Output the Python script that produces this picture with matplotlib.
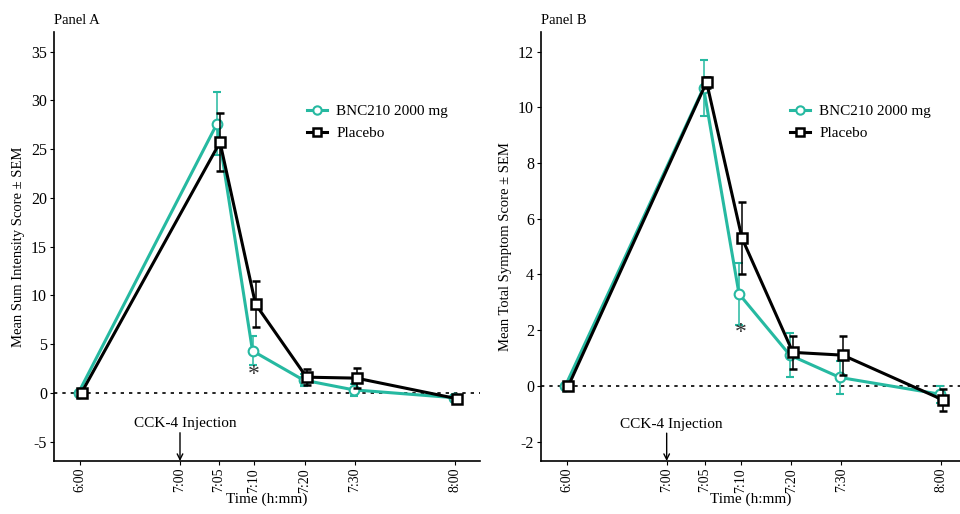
import numpy as np
import matplotlib.pyplot as plt
from matplotlib.lines import Line2D

plt.rcParams['font.family'] = ['Liberation Serif', 'DejaVu Serif']

# time points and tick labels
times = ["6:00", "7:05", "7:10", "7:20", "7:30", "8:00"]
tick_labels = ["6:00", "7:00", "7:05", "7:10", "7:20", "7:30", "8:00"]

# Panel A: Mean Sum Intensity Score
a_bnc = [0, 27.6, 4.3, 1.3, 0.3, -0.5]
a_bnc_sem = [0, 3.2, 1.5, 0.6, 0.6, 0.3]
a_pbo = [0, 25.7, 9.1, 1.6, 1.5, -0.6]
a_pbo_sem = [0, 3.0, 2.4, 0.8, 1.0, 0.3]

# Panel B: Mean Total Symptom Score
b_bnc = [0, 10.7, 3.3, 1.1, 0.3, -0.3]
b_bnc_sem = [0, 1.0, 1.1, 0.8, 0.6, 0.3]
b_pbo = [0, 10.9, 5.3, 1.2, 1.1, -0.5]
b_pbo_sem = [0, 0.2, 1.3, 0.6, 0.7, 0.4]

# non-linear x layout as in the original figure
tick_pos = np.array([0, 2.0, 2.77, 3.48, 4.5, 5.5, 7.5])
data_pos = np.array([0, 2.77, 3.48, 4.5, 5.5, 7.5])

teal = '#26b9a1'


def draw_panel(ax, bnc, bnc_sem, pbo, pbo_sem, ylim, yticks, ylabel, title,
               xright, star_y, cck_text_y, cck_arrow_y, legend):
    ax.axhline(0, color='black', linestyle=(0, (2, 3)), linewidth=1.2, zorder=1)
    ax.errorbar(data_pos - 0.03, bnc, yerr=bnc_sem, color=teal, linewidth=2.2,
                marker='o', markersize=7, markerfacecolor='white',
                markeredgecolor=teal, markeredgewidth=1.5, ecolor=teal,
                elinewidth=1.1, capsize=3, capthick=1.1, zorder=3)
    ax.errorbar(data_pos + 0.03, pbo, yerr=pbo_sem, color='black', linewidth=2.2,
                marker='s', markersize=7, markerfacecolor='white',
                markeredgecolor='black', markeredgewidth=1.8, ecolor='black',
                elinewidth=1.1, capsize=3, capthick=1.1, zorder=4)
    ax.set_xlim(-0.52, xright)
    ax.set_ylim(*ylim)
    ax.set_xticks(tick_pos)
    ax.set_xticklabels(tick_labels, rotation=90, fontsize=10)
    ax.set_yticks(yticks)
    ax.set_yticklabels([str(t) for t in yticks], fontsize=11.5)
    ax.tick_params(length=3, width=0.8, pad=2)
    for s in ['top', 'right']:
        ax.spines[s].set_visible(False)
    for s in ['left', 'bottom']:
        ax.spines[s].set_linewidth(1.2)
    ax.set_xlabel('Time (h:mm)', fontsize=11, labelpad=0)
    ax.set_ylabel(ylabel, fontsize=10.5, labelpad=4)
    ax.set_title(title, loc='left', fontsize=10.5, pad=6)
    ax.text(data_pos[2], star_y, '*', ha='center', va='center', fontsize=17,
            color='#333333')
    ax.text(tick_pos[1] + 0.1, cck_text_y, 'CCK-4 Injection', ha='center',
            va='center', fontsize=11)
    ax.annotate('', xy=(tick_pos[1], ylim[0]), xytext=(tick_pos[1], cck_arrow_y),
                arrowprops=dict(arrowstyle='->', color='black', lw=1.0,
                                shrinkA=0, shrinkB=0))
    handles = [
        Line2D([], [], color=teal, linewidth=2.2, marker='o', markersize=6,
               markerfacecolor='white', markeredgecolor=teal,
               markeredgewidth=1.5),
        Line2D([], [], color='black', linewidth=2.2, marker='s', markersize=6,
               markerfacecolor='white', markeredgecolor='black',
               markeredgewidth=1.8),
    ]
    ax.legend(handles, ['BNC210 2000 mg', 'Placebo'], loc='upper left',
              bbox_to_anchor=legend, frameon=False, fontsize=11,
              handlelength=1.3, handletextpad=0.6, labelspacing=0.55,
              borderaxespad=0)


fig = plt.figure(figsize=(9.6, 5.14), dpi=100)
ax1 = fig.add_axes([0.05625, 0.1031, 0.44375, 0.8346])
ax2 = fig.add_axes([0.5635, 0.1031, 0.4365, 0.8346])

draw_panel(ax1, a_bnc, a_bnc_sem, a_pbo, a_pbo_sem, (-7.0, 37.0),
           [-5, 0, 5, 10, 15, 20, 25, 30, 35],
           'Mean Sum Intensity Score \u00b1 SEM', 'Panel A', 8.0, 1.9, -3.2,
           -4.1, (0.58, 0.845))
draw_panel(ax2, b_bnc, b_bnc_sem, b_pbo, b_pbo_sem, (-2.7, 12.7),
           [-2, 0, 2, 4, 6, 8, 10, 12],
           'Mean Total Symptom Score \u00b1 SEM', 'Panel B', 7.88, 1.9, -1.4,
           -1.7, (0.58, 0.845))

fig.savefig('out.png', dpi=100)
